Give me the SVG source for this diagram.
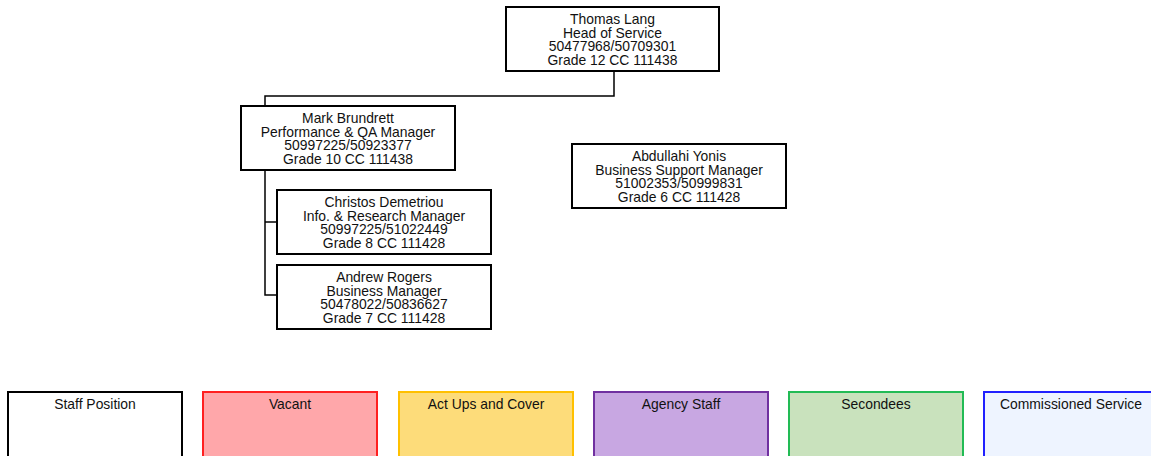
<svg xmlns="http://www.w3.org/2000/svg" width="1151" height="456" viewBox="0 0 1151 456">
<style>
.box{fill:#fff;stroke:#000;stroke-width:2}
.t{font-family:"Liberation Sans",Arial,sans-serif;font-size:13.9px;fill:#111;text-anchor:middle}
.c{fill:none;stroke:#000;stroke-width:1.5}
.lg{stroke-width:2}
</style>
<rect width="1151" height="456" fill="#fff"/>
<g id="connectors">
<polyline class="c" points="614,71 614,96 265,96 265,106"/>
<polyline class="c" points="265,170 265,295 277,295"/>
<line class="c" x1="265" y1="222" x2="277" y2="222"/>
</g>
<g id="thomas">
<rect class="box" x="506" y="7" width="213" height="64"/>
<text class="t" x="612.5" y="24">Thomas Lang</text>
<text class="t" x="612.5" y="37.7">Head of Service</text>
<text class="t" x="612.5" y="51.4">50477968/50709301</text>
<text class="t" x="612.5" y="65.1">Grade 12 CC 111438</text>
</g>
<g id="mark">
<rect class="box" x="241" y="106" width="214" height="64"/>
<text class="t" x="348" y="123">Mark Brundrett</text>
<text class="t" x="348" y="136.7">Performance &amp; QA Manager</text>
<text class="t" x="348" y="150.4">50997225/50923377</text>
<text class="t" x="348" y="164.1">Grade 10 CC 111438</text>
</g>
<g id="christos">
<rect class="box" x="277" y="190" width="214" height="64"/>
<text class="t" x="384" y="207">Christos Demetriou</text>
<text class="t" x="384" y="220.7">Info. &amp; Research Manager</text>
<text class="t" x="384" y="234.4">50997225/51022449</text>
<text class="t" x="384" y="248.1">Grade 8 CC 111428</text>
</g>
<g id="andrew">
<rect class="box" x="277" y="265" width="214" height="64"/>
<text class="t" x="384" y="282">Andrew Rogers</text>
<text class="t" x="384" y="295.7">Business Manager</text>
<text class="t" x="384" y="309.4">50478022/50836627</text>
<text class="t" x="384" y="323.1">Grade 7 CC 111428</text>
</g>
<g id="abdullahi">
<rect class="box" x="572" y="144" width="214" height="64"/>
<text class="t" x="679" y="161">Abdullahi Yonis</text>
<text class="t" x="679" y="174.7">Business Support Manager</text>
<text class="t" x="679" y="188.4">51002353/50999831</text>
<text class="t" x="679" y="202.1">Grade 6 CC 111428</text>
</g>
<g id="legend-staff">
<rect class="lg" x="8" y="392" width="174" height="70" fill="#fff" stroke="#000"/>
<text class="t" x="95" y="409">Staff Position</text>
</g>
<g id="legend-vacant">
<rect class="lg" x="203" y="392" width="174" height="70" fill="#ffa7aa" stroke="#ff2020"/>
<text class="t" x="290" y="409">Vacant</text>
</g>
<g id="legend-actups">
<rect class="lg" x="399" y="392" width="174" height="70" fill="#fddc7a" stroke="#ffc000"/>
<text class="t" x="486" y="409">Act Ups and Cover</text>
</g>
<g id="legend-agency">
<rect class="lg" x="594" y="392" width="174" height="70" fill="#c8a7e2" stroke="#7030a0"/>
<text class="t" x="681" y="409">Agency Staff</text>
</g>
<g id="legend-secondees">
<rect class="lg" x="789" y="392" width="174" height="70" fill="#c9e2bd" stroke="#22bb55"/>
<text class="t" x="876" y="409">Secondees</text>
</g>
<g id="legend-commissioned">
<rect class="lg" x="984" y="392" width="174" height="70" fill="#eef4ff" stroke="#2020ff"/>
<text class="t" x="1071" y="409">Commissioned Service</text>
</g>
</svg>
